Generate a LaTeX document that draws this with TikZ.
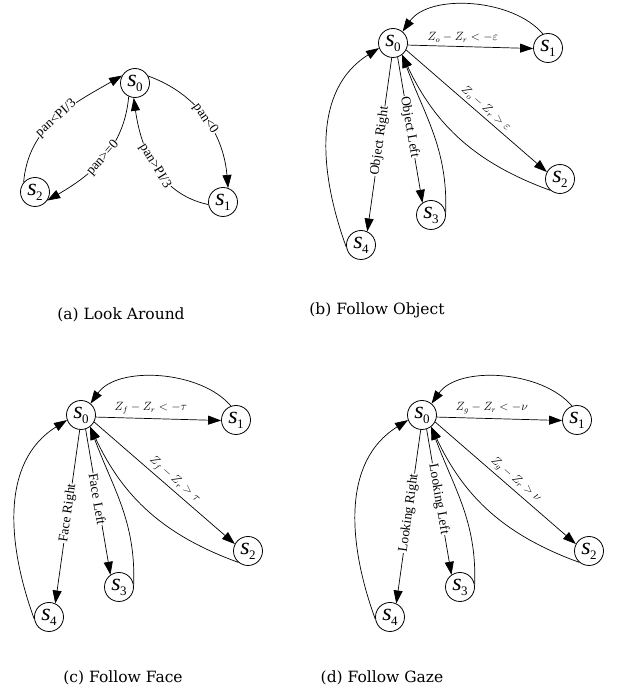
\documentclass[tikz,border=0pt]{standalone}
\usepackage{fontspec}
\setmainfont{Liberation Serif}
\newfontfamily\lblfont{Liberation Serif}
\newfontfamily\capfont{DejaVu Serif}
\usetikzlibrary{arrows.meta}
\newcommand\sst[1]{{\fontsize{24}{24}\selectfont\itshape s}\kern-0.5pt\raisebox{-5pt}{\fontsize{13}{13}\selectfont #1}}
\tikzset{
  state/.style={circle,draw,line width=0.8pt,minimum size=29pt,inner sep=0pt},
  edge/.style={line width=0.7pt,-{Triangle[length=13pt,width=9pt]}},
  lbl/.style={font=\lblfont\fontsize{13.5}{13.5}\selectfont,fill=white,inner sep=0.5pt,sloped},
  mlbl/.style={font=\fontsize{12}{12}\selectfont,inner sep=1pt},
  captxt/.style={font=\capfont\fontsize{15.5}{16}\selectfont}
}
% #1 prefix, #2 x shift, #3 y shift, #4 top label, #5 diagonal label, #6 right label, #7 left label
\newcommand\followpanel[7]{%
\begin{scope}[shift={(#2,#3)}]
  \node[state] (#1s0) at (393,650) {\sst{0}};
  \node[state] (#1s1) at (548,645) {\sst{1}};
  \node[state] (#1s2) at (560,514) {\sst{2}};
  \node[state] (#1s3) at (431,478) {\sst{3}};
  \node[state] (#1s4) at (361,448) {\sst{4}};
  \draw[edge] (#1s1.110) to[out=130,in=55,looseness=0.85] (#1s0.50);
  \draw[edge] (#1s0.-8) -- (#1s1.182) node[mlbl,above=3pt,pos=0.44] {#4};
  \draw[edge] (#1s0.-28) -- (#1s2.152) node[mlbl,sloped,above=2pt,pos=0.53] {#5};
  \draw[edge] (#1s2.230) to[out=160,in=-65] (#1s0.-52);
  \draw[edge] (#1s3.10) to[out=88,in=-70] (#1s0.-52);
  \draw[edge] (#1s0.-72) -- (#1s3.125) node[lbl,pos=0.48] {#7};
  \draw[edge] (#1s0.-95) -- (#1s4.65) node[lbl,pos=0.48] {#6};
  \draw[edge] (#1s4.188) to[out=110,in=212] (#1s0.200);
\end{scope}}
\begin{document}
\begin{tikzpicture}[x=1pt,y=1pt]
\useasboundingbox (0,0) rectangle (617,693);
% (a) Look Around
\node[state] (a0) at (135,610) {\sst{0}};
\node[state] (a1) at (223,491) {\sst{1}};
\node[state] (a2) at (35,501) {\sst{2}};
\draw[edge] (a2.140) to[out=85,in=210] node[lbl,midway] {pan<PI/3} (a0.150);
\draw[edge] (a0.28) to[out=-20,in=95] node[lbl,midway] {pan<0} (a1.70);
\draw[edge] (a0.245) to[out=265,in=30] node[lbl,midway] {pan>=0} (a2.-35);
\draw[edge] (a1.190) to[out=168,in=278] node[lbl,midway] {pan>PI/3} (a0.265);
% (b), (c), (d)
\followpanel{b}{0}{0}{$Z_o-Z_r<-\varepsilon$}{$Z_o-Z_r>\varepsilon$}{Object Right}{Object Left}
\followpanel{c}{-312}{-372}{$Z_f-Z_r<-\tau$}{$Z_f-Z_r>\tau$}{Face Right}{Face Left}
\followpanel{d}{29}{-372}{$Z_g-Z_r<-\nu$}{$Z_g-Z_r>\nu$}{Looking Right}{Looking Left}
% captions
\node[captxt] (capa) at (121,378) {(a) Look Around};
\node[captxt] (capb) at (377,383) {(b) Follow Object};
\node[captxt] (capc) at (123,15) {(c) Follow Face};
\node[captxt] (capd) at (382,15) {(d) Follow Gaze};
\end{tikzpicture}
\end{document}
